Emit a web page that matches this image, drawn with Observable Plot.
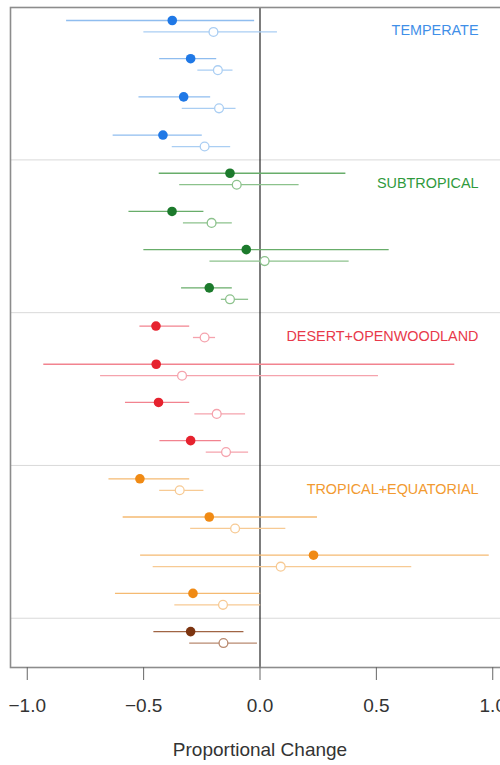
<!DOCTYPE html>
<html>
<head>
<meta charset="utf-8">
<script src="https://cdn.jsdelivr.net/npm/d3@7"></script>
<script src="https://cdn.jsdelivr.net/npm/@observablehq/plot@0.6"></script>
<style>
  html, body { margin: 0; padding: 0; background: #fff; overflow: hidden; }
  #chart { width: 500px; height: 765px; overflow: hidden; }
  #chart svg { font-family: "Liberation Sans", Arial, Helvetica, sans-serif; }
</style>
</head>
<body>
<div id="chart"></div>
<script>
// Biome groups, in plotting order (top to bottom); the last group has no label
const groupNames = ["TEMPERATE", "SUBTROPICAL", "DESERT+OPENWOODLAND", "TROPICAL+EQUATORIAL", ""];

// Group of each estimate pair
const pairGroup = [0, 0, 0, 0, 1, 1, 1, 1, 2, 2, 2, 2, 3, 3, 3, 3, 4];

// Filled estimates with their interval bounds
const filledEst = [-0.377, -0.298, -0.328, -0.417, -0.129, -0.378, -0.059, -0.218, -0.447, -0.446, -0.436, -0.298, -0.516, -0.218, 0.230, -0.288, -0.298];
const filledLo  = [-0.831, -0.431, -0.520, -0.631, -0.433, -0.563, -0.499, -0.337, -0.516, -0.929, -0.578, -0.430, -0.649, -0.588, -0.513, -0.621, -0.456];
const filledHi  = [-0.023, -0.186, -0.212, -0.248, 0.369, -0.241, 0.555, -0.119, -0.302, 0.837, -0.302, -0.166, -0.302, 0.247, 0.985, 0.003, -0.069];

// Open estimates with their interval bounds
const openEst = [-0.200, -0.181, -0.176, -0.238, -0.100, -0.208, 0.020, -0.129, -0.238, -0.335, -0.186, -0.146, -0.345, -0.107, 0.089, -0.159, -0.157];
const openLo  = [-0.499, -0.267, -0.334, -0.377, -0.345, -0.329, -0.215, -0.166, -0.286, -0.685, -0.280, -0.231, -0.431, -0.298, -0.459, -0.366, -0.302];
const openHi  = [0.075, -0.116, -0.103, -0.126, 0.168, -0.119, 0.383, -0.049, -0.191, 0.509, -0.062, -0.049, -0.241, 0.111, 0.652, 0.003, -0.011];

// Axis ticks
const xTicks = [-1.0, -0.5, 0.0, 0.5, 1.0];

// Palette per group
const dotColor      = ["#1f78e6", "#1c7a2c", "#e6222e", "#f08a14", "#7c3410"];
const lineColor     = ["#8fbdef", "#68ad6a", "#f2838f", "#f5ba72", "#a06444"];
const openLineColor = ["#aacef3", "#8cc28c", "#f5a3ad", "#f7ca94", "#b88a70"];
const labelColor    = ["#3f8fe8", "#2f9a3c", "#e8394a", "#f29a30", "#7c3410"];

// Vertical offset of the open estimate below its filled partner (row units)
const OPEN_OFFSET = 0.3;

const rows = [];
pairGroup.forEach((g, i) => {
  rows.push({kind: "filled", g, y: i, est: filledEst[i], lo: filledLo[i], hi: filledHi[i]});
  rows.push({kind: "open", g, y: i + OPEN_OFFSET, est: openEst[i], lo: openLo[i], hi: openHi[i]});
});
const filledRows = rows.filter(d => d.kind === "filled");
const openRows = rows.filter(d => d.kind === "open");

// Separator between groups: midway between a group's last open row and the next filled row
const separators = [];
for (let i = 1; i < pairGroup.length; i++) {
  if (pairGroup[i] !== pairGroup[i - 1]) separators.push((i - 1 + OPEN_OFFSET + i) / 2);
}

// Group labels sit on the row of each group's first open estimate
const labels = groupNames
  .map((name, g) => ({name, g, y: pairGroup.indexOf(g) + 0.27}))
  .filter(d => d.name);

const fmt = v => (v < 0 ? "\u2212" : "") + Math.abs(v).toFixed(1);

const chart = Plot.plot({
  width: 500,
  height: 765,
  marginLeft: 10,
  marginRight: -9,
  marginTop: 7,
  marginBottom: 98,
  style: {fontFamily: '"Liberation Sans", Arial, Helvetica, sans-serif', background: "#fff"},
  x: {domain: [-1.072, 1.072]},
  y: {domain: [-0.34, 16.94], reverse: true, axis: null},
  color: {type: "identity"},
  marks: [
    Plot.ruleY(separators, {stroke: "#d9d9d9", strokeWidth: 1}),
    Plot.ruleX([0], {stroke: "#111", strokeWidth: 1.1}),
    Plot.ruleY(filledRows, {y: "y", x1: "lo", x2: "hi", stroke: d => lineColor[d.g], strokeWidth: 1.3}),
    Plot.ruleY(openRows, {y: "y", x1: "lo", x2: "hi", stroke: d => openLineColor[d.g], strokeWidth: 1.3}),
    Plot.dot(filledRows, {x: "est", y: "y", r: 4.8, fill: d => dotColor[d.g], stroke: "none"}),
    Plot.dot(openRows, {x: "est", y: "y", r: 4.4, fill: "#fff", stroke: d => openLineColor[d.g], strokeWidth: 1.3}),
    Plot.text(labels, {
      y: "y", frameAnchor: "right", dx: -31, text: "name", textAnchor: "end",
      fill: d => labelColor[d.g], fontSize: 14.4
    }),
    Plot.frame({stroke: "#8c8c8c", strokeWidth: 1.6}),
    Plot.axisX({
      ticks: xTicks, tickFormat: fmt, tickSize: 13, tickPadding: 18,
      fontSize: 19, stroke: "#666", color: "#333",
      label: "Proportional Change", labelAnchor: "center", labelArrow: "none", labelOffset: 88
    })
  ]
});
document.getElementById("chart").appendChild(chart);
</script>
</body>
</html>
